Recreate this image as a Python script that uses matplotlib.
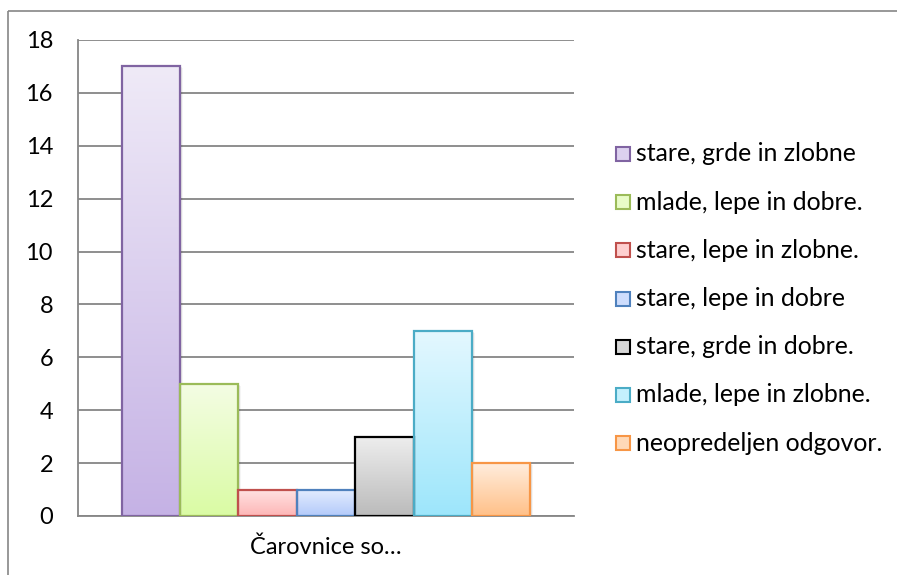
import numpy as np
import matplotlib
matplotlib.use('Agg')
import matplotlib.pyplot as plt
from matplotlib.patches import Rectangle
from matplotlib.colors import LinearSegmentedColormap
import matplotlib.transforms as mtrans

#%%
#------ Datos -------
kategorija = 'Čarovnice so…'
odgovori   = ['stare, grde in zlobne',
              'mlade, lepe in dobre.',
              'stare, lepe in zlobne.',
              'stare, lepe in dobre',
              'stare, grde in dobre.',
              'mlade, lepe in zlobne.',
              'neopredeljen odgovor.']
stevilo    = [17, 5, 1, 1, 3, 7, 2]

barva_zg   = ['#EFEAF7', '#F4FDE4', '#FFE3E3', '#E4EDFF', '#EEEEEE', '#E4F8FF', '#FFEDDD']
barva_sp   = ['#C5B2E5', '#DAFBA4', '#FDB6B6', '#B3CAFA', '#BBBBBB', '#9DE6FB', '#FFC088']
barva_rob  = ['#8064A2', '#9BBB59', '#C0504D', '#4F81BD', '#000000', '#4BACC6', '#F79646']

plt.rcParams['font.family'] = ['Lato', 'DejaVu Sans']

W, H = 897, 575
fig = plt.figure(figsize=(W / 100, H / 100), dpi=100)
fig.patch.set_facecolor('white')

# velikost pisave: sirina prve legende ~221 px
rend = fig.canvas.get_renderer()
t = fig.text(0, 0, odgovori[0], fontsize=10)
sirina = t.get_window_extent(rend).width
t.remove()
fs_txt = 10 * 221 / sirina

# okvir grafa
fig.add_artist(plt.Line2D([8 / W, 1.0], [1 - 11 / H, 1 - 11 / H], color='#868686',
                          lw=1.2, solid_capstyle='butt'))
fig.add_artist(plt.Line2D([8 / W, 8 / W], [0, 1 - 11 / H], color='#868686',
                          lw=1.2, solid_capstyle='butt'))

ax = fig.add_axes([78 / W, (H - 516) / H, (574 - 78) / W, (516 - 40) / H])

n = len(stevilo)
w = 58.4 / 496
xs = (np.arange(n) - (n - 1) / 2) * w

ax.set_xlim(-0.5, 0.5)
ax.set_ylim(0, 18)
ax.set_yticks(np.arange(0, 19, 2))
ax.yaxis.grid(True, color='#868686', lw=1.3)
ax.set_axisbelow(True)

for s in ['top', 'right']:
    ax.spines[s].set_visible(False)
for s in ['left', 'bottom']:
    ax.spines[s].set_color('#868686')
    ax.spines[s].set_linewidth(1.3)

ax.tick_params(axis='y', length=0, pad=18, labelsize=fs_txt * 0.95)
ax.tick_params(axis='x', length=0, pad=15, labelsize=fs_txt * 0.95)
ax.set_xticks([0])
ax.set_xticklabels([kategorija])

#------ Stolpci z gradientom -------
for i in range(n):
    # senca
    for k, a in zip([1, 2, 3], [0.10, 0.07, 0.04]):
        off = mtrans.offset_copy(ax.transData, fig=fig, x=k, y=-k + 1, units='dots')
        ax.add_patch(Rectangle((xs[i] - w / 2, 0), w, stevilo[i], facecolor='black',
                               alpha=a, lw=0, transform=off, zorder=2))
    cmap = LinearSegmentedColormap.from_list('g%d' % i, [barva_sp[i], barva_zg[i]])
    grad = np.linspace(0, 1, 256).reshape(-1, 1)
    im = ax.imshow(grad, cmap=cmap, aspect='auto', origin='lower',
                   extent=[xs[i] - w / 2, xs[i] + w / 2, 0, stevilo[i]], zorder=3)
    b = ax.bar(xs[i], stevilo[i], width=w, facecolor='none',
               edgecolor=barva_rob[i], lw=1.6, zorder=4)
    im.set_clip_path(b.patches[0])

ax.set_xlim(-0.5, 0.5)
ax.set_ylim(0, 18)

#------ Legenda -------
for i in range(n):
    yc = 1 - (154 + i * 48.2) / H
    sq = 14
    cmap = LinearSegmentedColormap.from_list('l%d' % i, [barva_sp[i], barva_zg[i]])
    fig.add_artist(Rectangle((616 / W, yc - sq / 2 / H), sq / W, sq / H,
                             facecolor=cmap(0.55), edgecolor=barva_rob[i], lw=1.5))
    fig.text(636 / W, yc, odgovori[i], fontsize=fs_txt, va='center', ha='left')

fig.savefig('out.png', dpi=100, facecolor='white')
